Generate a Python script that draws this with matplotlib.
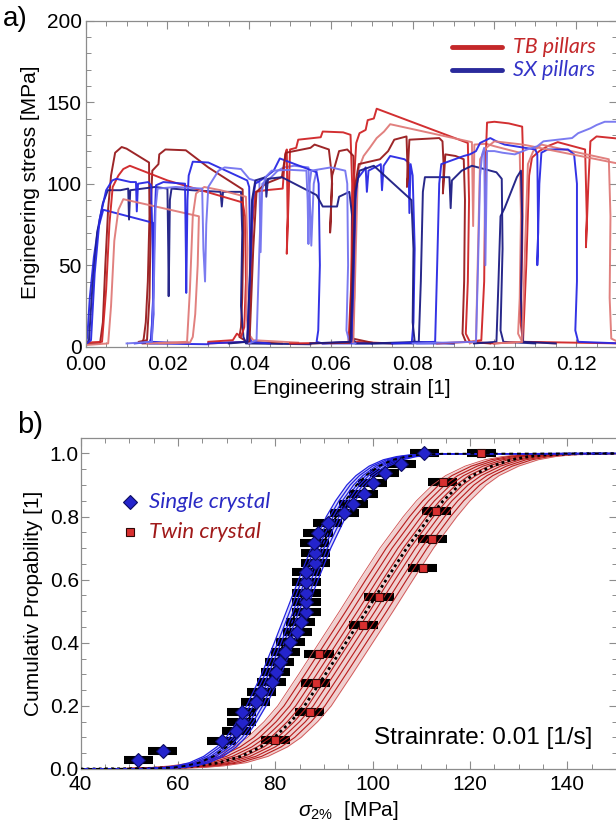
"""
plot.py - stress-strain curves of TB / SX pillars and cumulative yield-stress distributions
"""
import numpy as np
import matplotlib
matplotlib.use("Agg")
import matplotlib.pyplot as plt
from matplotlib.ticker import MultipleLocator, FormatStrFormatter

plt.rcParams['font.family'] = ['Liberation Sans', 'DejaVu Sans']
plt.rcParams['mathtext.fontset'] = 'custom'
plt.rcParams['mathtext.rm'] = 'Liberation Sans'
plt.rcParams['mathtext.it'] = 'Liberation Sans:italic'

# ---------------- panel a) : engineering strain / stress [MPa] ----------------
tb_1 = [(0.0000, 1.5), (0.0035, 2.0), (0.0042, 15), (0.0048, 50), (0.0055, 85), (0.0062, 105),
        (0.0072, 119), (0.0088, 122.5), (0.0100, 121.5), (0.0155, 113), (0.0156, 80), (0.0152, 40),
        (0.0147, 15), (0.0142, 5), (0.0138, 2), (0.0250, 2.5)]
tb_2 = [(0.0130, 3), (0.0150, 4), (0.0156, 30), (0.0160, 90), (0.0163, 108), (0.0178, 112),
        (0.0180, 118), (0.0195, 121), (0.0245, 120.5), (0.0300, 110), (0.0384, 96.5), (0.0386, 70),
        (0.0383, 30), (0.0380, 12), (0.0376, 6), (0.0395, 3), (0.0480, 2)]
tb_3 = [(0.0000, 2.5), (0.0040, 3), (0.0050, 35), (0.0058, 75), (0.0066, 98), (0.0080, 105),
        (0.0092, 109), (0.0108, 111), (0.0200, 102), (0.0384, 88.5), (0.0390, 80), (0.0392, 40),
        (0.0388, 12), (0.0380, 6), (0.0370, 8), (0.0360, 4), (0.0300, 3)]
tb_4 = [(0.0000, 1), (0.0055, 2), (0.0062, 25), (0.0070, 65), (0.0080, 84), (0.0092, 90.5),
        (0.0277, 80), (0.0274, 50), (0.0268, 20), (0.0262, 6), (0.0255, 2.5), (0.0180, 2)]
tb_5 = [(0.0150, 2), (0.0248, 3), (0.0255, 35), (0.0262, 80), (0.0270, 94), (0.0290, 98),
        (0.0330, 96), (0.0392, 92), (0.0396, 60), (0.0393, 20), (0.0398, 8), (0.0410, 4), (0.0520, 2.5)]
tb_6 = [(0.0300, 2), (0.0395, 3), (0.0402, 30), (0.0408, 75), (0.0415, 95), (0.0440, 96),
        (0.0482, 97), (0.0488, 118), (0.0492, 121), (0.0494, 80), (0.0492, 57), (0.0497, 95),
        (0.0500, 121), (0.0515, 122), (0.0520, 127), (0.0575, 128.5), (0.0580, 132), (0.0630, 131.5),
        (0.0648, 130), (0.0652, 100), (0.0650, 40), (0.0647, 10), (0.0655, 3), (0.0750, 2)]
tb_7 = [(0.0400, 2), (0.0402, 10), (0.0410, 60), (0.0418, 95), (0.0440, 100), (0.0480, 104),
        (0.0485, 112), (0.0490, 119), (0.0550, 122), (0.0560, 124), (0.0595, 121), (0.0600, 110),
        (0.0603, 100), (0.0598, 70), (0.0603, 105), (0.0620, 120), (0.0640, 121), (0.0655, 117),
        (0.0660, 80), (0.0657, 30), (0.0653, 5), (0.0700, 2.5)]
tb_8 = [(0.0500, 2), (0.0643, 2.5), (0.0650, 40), (0.0656, 100), (0.0662, 125), (0.0670, 131),
        (0.0685, 133), (0.0690, 139), (0.0705, 140), (0.0712, 146), (0.0935, 125), (0.0938, 90),
        (0.0935, 40), (0.0930, 8), (0.0940, 3), (0.1000, 2)]
tb_9 = [(0.0600, 2), (0.0655, 3), (0.0660, 50), (0.0666, 108), (0.0680, 117), (0.0695, 122),
        (0.0712, 128), (0.0730, 132), (0.0745, 136.5), (0.0945, 125.5), (0.0948, 74), (0.0951, 124),
        (0.0980, 124.5), (0.1000, 123), (0.1062, 119), (0.1065, 80), (0.1062, 30), (0.1058, 8),
        (0.1068, 3), (0.1150, 2)]
tb_10 = [(0.0550, 2), (0.0646, 2.5), (0.0652, 50), (0.0660, 100), (0.0668, 112), (0.0720, 115),
         (0.0740, 120), (0.0755, 127), (0.0785, 129), (0.0788, 104), (0.0786, 98), (0.0792, 127),
         (0.0865, 128), (0.0873, 126), (0.0876, 110), (0.0874, 94), (0.0880, 118), (0.0905, 117),
         (0.0925, 115), (0.0928, 90), (0.0926, 40), (0.0922, 8), (0.0930, 3), (0.0990, 2)]
tb_11 = [(0.0860, 2), (0.0940, 3), (0.0968, 4), (0.0975, 40), (0.0978, 110), (0.0982, 137.5),
         (0.1000, 138), (0.1035, 137), (0.1068, 135), (0.1070, 118), (0.1068, 60), (0.1064, 15),
         (0.1070, 3), (0.1310, 2)]
tb_12 = [(0.1000, 2), (0.1070, 3), (0.1078, 50), (0.1085, 105), (0.1092, 116), (0.1110, 120),
         (0.1130, 123), (0.1155, 125.5), (0.1222, 121), (0.1226, 80), (0.1224, 61), (0.1230, 100),
         (0.1235, 126), (0.1250, 129), (0.1310, 127.5)]
tb_13 = [(0.1000, 2), (0.1068, 3), (0.1075, 60), (0.1082, 112), (0.1095, 120), (0.1115, 124),
         (0.1280, 115), (0.1284, 80), (0.1282, 30), (0.1286, 5), (0.1310, 2)]
tb_14 = [(0.0940, 2), (0.0955, 4), (0.0960, 60), (0.0965, 115), (0.0980, 122), (0.1000, 126),
         (0.1070, 124), (0.1310, 112)]

sx_1 = [(0.0000, 2), (0.0004, 6), (0.0010, 30), (0.0020, 55), (0.0030, 72), (0.0043, 84),
        (0.0165, 76), (0.0167, 50), (0.0164, 20), (0.0160, 5), (0.0155, 2), (0.0300, 1.5)]
sx_2 = [(0.0000, 1), (0.0008, 4), (0.0016, 35), (0.0028, 70), (0.0042, 88), (0.0054, 96),
        (0.0085, 96), (0.0104, 97), (0.0106, 78), (0.0109, 96), (0.0170, 98), (0.0200, 97),
        (0.0202, 60), (0.0203, 31), (0.0206, 90), (0.0210, 97), (0.0260, 96), (0.0330, 95),
        (0.0333, 86), (0.0336, 95), (0.0380, 95), (0.0383, 70), (0.0380, 25), (0.0386, 6),
        (0.0392, 2), (0.0550, 1.5)]
sx_3 = [(0.0000, 1.5), (0.0013, 4), (0.0022, 45), (0.0034, 78), (0.0050, 96), (0.0065, 102),
        (0.0075, 103), (0.0110, 101), (0.0123, 101), (0.0125, 83), (0.0128, 100), (0.0153, 101),
        (0.0160, 99), (0.0164, 60), (0.0166, 20), (0.0161, 3), (0.0250, 2)]
sx_4 = [(0.0120, 2), (0.0160, 3), (0.0165, 30), (0.0169, 80), (0.0172, 99), (0.0190, 101),
        (0.0243, 100), (0.0245, 60), (0.0246, 33), (0.0249, 90), (0.0252, 105), (0.0262, 113.5),
        (0.0300, 113), (0.0395, 102), (0.0400, 98), (0.0403, 50), (0.0399, 10), (0.0405, 3),
        (0.0450, 2)]
sx_5 = [(0.0100, 2), (0.0162, 3), (0.0167, 40), (0.0171, 85), (0.0176, 97), (0.0220, 98),
        (0.0285, 97), (0.0288, 60), (0.0292, 40), (0.0295, 75), (0.0300, 98), (0.0325, 108),
        (0.0340, 110), (0.0380, 109), (0.0400, 103), (0.0425, 101), (0.0428, 58), (0.0432, 100),
        (0.0450, 103), (0.0470, 108), (0.0485, 110), (0.0510, 111), (0.0545, 110), (0.0550, 80),
        (0.0552, 62), (0.0558, 100), (0.0565, 108)]
sx_6 = [(0.0300, 2), (0.0395, 3), (0.0403, 50), (0.0409, 90), (0.0415, 100), (0.0440, 104),
        (0.0460, 108), (0.0475, 115.5), (0.0565, 107), (0.0570, 100), (0.0573, 50), (0.0569, 10),
        (0.0565, 3), (0.0580, 2), (0.0700, 2)]
sx_7 = [(0.0350, 2), (0.0396, 3), (0.0401, 40), (0.0407, 90), (0.0415, 102), (0.0440, 104),
        (0.0442, 92), (0.0446, 103), (0.0480, 104), (0.0565, 93), (0.0580, 86), (0.0615, 86),
        (0.0620, 92), (0.0645, 95), (0.0652, 80), (0.0655, 40), (0.0650, 8), (0.0660, 2), (0.0800, 2)]
sx_8 = [(0.0400, 2), (0.0418, 4), (0.0425, 60), (0.0430, 95), (0.0440, 104), (0.0455, 108),
        (0.0500, 108.5), (0.0540, 108), (0.0543, 90), (0.0545, 63), (0.0548, 100), (0.0552, 108),
        (0.0600, 110), (0.0635, 108), (0.0640, 100), (0.0642, 50), (0.0638, 10), (0.0645, 3),
        (0.0660, 2)]
sx_9 = [(0.0580, 2), (0.0650, 3), (0.0655, 40), (0.0660, 90), (0.0665, 103), (0.0680, 108),
        (0.0685, 110), (0.0688, 95), (0.0692, 108), (0.0715, 111), (0.0722, 112), (0.0725, 96),
        (0.0729, 111), (0.0745, 117), (0.0780, 115), (0.0790, 113), (0.0792, 82), (0.0795, 112),
        (0.0800, 105), (0.0805, 60), (0.0802, 15), (0.0798, 3), (0.0810, 2), (0.0900, 2)]
sx_10 = [(0.0550, 2), (0.0648, 3), (0.0652, 30), (0.0660, 95), (0.0670, 108), (0.0705, 111),
         (0.0797, 90), (0.0802, 60), (0.0800, 15), (0.0805, 3), (0.0900, 2)]
sx_11 = [(0.0700, 2), (0.0815, 3), (0.0820, 40), (0.0825, 95), (0.0830, 104), (0.0890, 104),
         (0.0893, 85), (0.0896, 102), (0.0920, 108), (0.0945, 111), (0.1005, 107), (0.1018, 103),
         (0.1020, 60), (0.1015, 10), (0.1022, 3), (0.1100, 2)]
sx_12 = [(0.0950, 2), (0.1005, 3), (0.1010, 40), (0.1015, 80), (0.1025, 85), (0.1055, 104),
         (0.1065, 108), (0.1068, 80), (0.1065, 30), (0.1070, 3), (0.1150, 2)]
sx_13 = [(0.0750, 2), (0.0855, 3), (0.0860, 50), (0.0865, 100), (0.0870, 112), (0.0925, 117),
         (0.0940, 118), (0.0955, 120), (0.0965, 125), (0.0990, 128), (0.1005, 126), (0.1025, 124),
         (0.1100, 121), (0.1105, 118), (0.1107, 70), (0.1105, 50), (0.1110, 100), (0.1115, 119),
         (0.1130, 121), (0.1180, 121), (0.1195, 118), (0.1202, 100), (0.1202, 40), (0.1198, 10),
         (0.1205, 3), (0.1310, 2)]
sx_14 = [(0.0800, 2), (0.0955, 3), (0.0960, 50), (0.0965, 105), (0.0970, 118), (0.0975, 122),
         (0.0978, 50), (0.0982, 120), (0.1000, 120), (0.1020, 119), (0.1050, 118), (0.1080, 121),
         (0.1105, 123), (0.1120, 126), (0.1190, 128), (0.1205, 131), (0.1215, 132), (0.1235, 134),
         (0.1250, 136), (0.1270, 138), (0.1310, 138)]

TB_CURVES = [tb_1, tb_2, tb_3, tb_4, tb_5, tb_6, tb_7, tb_8, tb_9, tb_10, tb_11, tb_12, tb_13, tb_14]
TB_SHADES = ['dark', 'dark', 'mid', 'light', 'light', 'mid', 'dark', 'mid', 'light', 'dark',
             'mid', 'mid', 'light', 'light']
SX_CURVES = [sx_1, sx_2, sx_3, sx_4, sx_5, sx_6, sx_7, sx_8, sx_9, sx_10, sx_11, sx_12, sx_13, sx_14]
SX_SHADES = ['mid', 'dark', 'mid', 'mid', 'light', 'mid', 'dark', 'light', 'mid', 'dark',
             'dark', 'dark', 'mid', 'light']

RED = {'dark': '#981a1c', 'mid': '#d02426', 'light': '#e07a78'}
BLUE = {'dark': '#1c1c84', 'mid': '#2828e4', 'light': '#7474f0'}

# ---------------- panel b) : sigma_2% [MPa] vs cumulative probability ----------------
SX_SIGMA = [51.9, 56.9, 69.0, 72.0, 73.1, 73.1, 76.0, 77.1, 79.3, 80.1, 80.9, 82.1, 83.1, 84.5,
            85.2, 86.4, 86.4, 86.4, 86.4, 86.4, 88.2, 88.2, 88.0, 88.8, 90.8, 94.2, 96.0, 98.2,
            100.0, 102.5, 105.9, 110.6]
SX_PROB = [0.029, 0.058, 0.090, 0.120, 0.150, 0.182, 0.213, 0.245, 0.277, 0.308, 0.340, 0.372,
           0.401, 0.435, 0.467, 0.498, 0.530, 0.559, 0.593, 0.625, 0.652, 0.683, 0.715, 0.747,
           0.780, 0.812, 0.840, 0.873, 0.905, 0.937, 0.968, 1.000]
TW_SIGMA = [80.0, 87.1, 88.3, 89.0, 98.1, 101.3, 110.3, 112.3, 113.1, 114.4, 122.3]
TW_PROB = [0.091, 0.182, 0.273, 0.364, 0.455, 0.546, 0.637, 0.728, 0.818, 0.909, 1.000]
ERR_HALF = 3.0

FIT_P = [0.0, 0.001, 0.005, 0.01, 0.02, 0.04, 0.07, 0.1, 0.15, 0.2, 0.3, 0.4, 0.5, 0.6, 0.7,
         0.8, 0.85, 0.9, 0.93, 0.96, 0.98, 0.99, 0.995, 0.999, 1.0]
SX_FIT = [40, 54.3, 59.3, 61.7, 64.4, 67.3, 70.0, 71.9, 74.2, 76.1, 79.2, 81.8, 84.3, 86.8, 89.4,
          92.5, 94.4, 96.7, 98.6, 101.3, 104.2, 106.9, 109.3, 114.3, 150]
TW_FIT = [40, 52, 60, 64, 68.5, 73, 77, 79.8, 83.2, 86, 90.3, 94.5, 98.7, 102.8, 107, 111.8,
          114.5, 117.8, 120.5, 124.5, 128.5, 132, 135, 141, 150]
SX_ENSEMBLE_SHIFT = [-2.0, -1.3, -0.6, 0.0, 0.6, 1.3, 2.0]
TW_ENSEMBLE_SHIFT = [-5.5, -4.2, -3.0, -1.8, -0.7, 0.7, 1.8, 3.0, 4.2, 5.5]


def style_frame(ax, xpad, ypad):
    for sp in ax.spines.values():
        sp.set_color('#8c8c8c')
        sp.set_linewidth(0.9)
    ax.tick_params(which='both', direction='in', top=True, right=True, color='#8c8c8c',
                   labelcolor='black', labelsize=15)
    ax.tick_params(which='major', length=6, width=0.8)
    ax.tick_params(which='minor', length=3.5, width=0.7)
    ax.tick_params(axis='x', which='both', pad=xpad)
    ax.tick_params(axis='y', which='both', pad=ypad)


fig = plt.figure(figsize=(6.16, 8.24), dpi=100)

# ---- a) ----
ax1 = fig.add_axes([85.7 / 616, 477.3 / 824, 531.3 / 616, 326 / 824])
order = []
for i in range(max(len(TB_CURVES), len(SX_CURVES))):
    if i < len(TB_CURVES):
        order.append((TB_CURVES[i], RED[TB_SHADES[i]]))
    if i < len(SX_CURVES):
        order.append((SX_CURVES[i], BLUE[SX_SHADES[i]]))
for pts, col in order:
    arr = np.array(pts)
    ax1.plot(arr[:, 0], arr[:, 1], color=col, lw=1.4, alpha=0.95, solid_joinstyle='round')

ax1.set_xlim(0, 0.130)
ax1.set_ylim(0, 200)
ax1.xaxis.set_major_locator(MultipleLocator(0.02))
ax1.xaxis.set_minor_locator(MultipleLocator(0.005))
ax1.yaxis.set_major_locator(MultipleLocator(50))
ax1.yaxis.set_minor_locator(MultipleLocator(10))
ax1.xaxis.set_major_formatter(FormatStrFormatter('%.2f'))
style_frame(ax1, 6, 3)
ax1.set_xlabel('Engineering strain [1]', fontsize=15)
ax1.set_ylabel('Engineering stress [MPa]', fontsize=15)
ax1.xaxis.set_label_coords(0.5, -0.099)
ax1.yaxis.set_label_coords(-0.086, 0.504)

# legend of a)
ax1.plot([0.689, 0.783], [0.920, 0.920], transform=ax1.transAxes, color='#c4282a', lw=3.5,
         solid_capstyle='round')
ax1.plot([0.689, 0.783], [0.849, 0.849], transform=ax1.transAxes, color='#2a2a9c', lw=3.5,
         solid_capstyle='round')
ax1.text(0.804, 0.920, 'TB pillars', transform=ax1.transAxes, color='#c4282a', fontsize=15.5,
         family=['Lato', 'DejaVu Sans'], style='italic', va='center', ha='left')
ax1.text(0.804, 0.849, 'SX pillars', transform=ax1.transAxes, color='#3434c8', fontsize=15.5,
         family=['Lato', 'DejaVu Sans'], style='italic', va='center', ha='left')

# ---- b) ----
ax2 = fig.add_axes([80.5 / 616, 55 / 824, 536.5 / 616, 331.3 / 824])
p = np.array(FIT_P)
sx_fit = np.array(SX_FIT)
tw_fit = np.array(TW_FIT)

ax2.errorbar(SX_SIGMA, SX_PROB, xerr=ERR_HALF, fmt='none', ecolor='black', elinewidth=5.8,
             capsize=0, zorder=2)
ax2.errorbar(TW_SIGMA, TW_PROB, xerr=ERR_HALF, fmt='none', ecolor='black', elinewidth=5.8,
             capsize=0, zorder=2)

ax2.fill_betweenx(p, tw_fit + TW_ENSEMBLE_SHIFT[0], tw_fit + TW_ENSEMBLE_SHIFT[-1],
                  color='#e6b2b2', alpha=0.6, lw=0, zorder=1)
for k, s in enumerate(TW_ENSEMBLE_SHIFT):
    edge = k in (0, len(TW_ENSEMBLE_SHIFT) - 1)
    ax2.plot(tw_fit + s, p, color='#d05050' if edge else '#b81c1c', lw=0.6 if edge else 0.8,
             zorder=3)
ax2.plot(tw_fit, p, color='black', lw=2.0, ls=(0, (1, 1.2)), zorder=3)

ax2.fill_betweenx(p, sx_fit + SX_ENSEMBLE_SHIFT[0], sx_fit + SX_ENSEMBLE_SHIFT[-1],
                  color='#9090f0', alpha=0.35, lw=0, zorder=1)
for s in SX_ENSEMBLE_SHIFT:
    ax2.plot(sx_fit + s, p, color='#2222e0', lw=0.9, zorder=3)
ax2.plot(sx_fit, p, color='black', lw=1.4, ls=(0, (2, 2)), zorder=3)

ax2.plot(SX_SIGMA, SX_PROB, 'D', ms=7.5, mfc='#2424cc', mec='#0c0c60', mew=0.8, zorder=4)
ax2.plot(TW_SIGMA, TW_PROB, 's', ms=6, mfc='#d83030', mec='#300808', mew=0.8, zorder=4)

ax2.set_xlim(40, 150.2)
ax2.set_ylim(0, 1.05)
ax2.xaxis.set_major_locator(MultipleLocator(20))
ax2.xaxis.set_minor_locator(MultipleLocator(5))
ax2.yaxis.set_major_locator(MultipleLocator(0.2))
ax2.yaxis.set_minor_locator(MultipleLocator(0.05))
ax2.yaxis.set_major_formatter(FormatStrFormatter('%.1f'))
style_frame(ax2, 4.5, 1.2)
ax2.set_xlabel(r'$\sigma_{2\%}$  [MPa]', fontsize=15)
ax2.set_ylabel('Cumulativ Propability [1]', fontsize=15)
ax2.xaxis.set_label_coords(0.5, -0.090)
ax2.yaxis.set_label_coords(-0.070, 0.501)

# legend of b)
ax2.plot([0.092], [0.807], 'D', transform=ax2.transAxes, ms=7.5, mfc='#2424cc', mec='#0c0c60',
         mew=0.8)
ax2.plot([0.092], [0.716], 's', transform=ax2.transAxes, ms=6, mfc='#d83030', mec='#300808',
         mew=0.8)
ax2.text(0.128, 0.807, 'Single crystal', transform=ax2.transAxes, color='#2a2ac4', fontsize=16,
         family=['Lato', 'DejaVu Sans'], style='italic', va='center', ha='left')
ax2.text(0.128, 0.716, 'Twin crystal', transform=ax2.transAxes, color='#a01a1a', fontsize=16,
         family=['Lato', 'DejaVu Sans'], style='italic', va='center', ha='left')
ax2.text(0.750, 0.094, 'Strainrate: 0.01 [1/s]', transform=ax2.transAxes, fontsize=17.5,
         ha='center', va='center')

fig.text(0.024, 0.977, 'a)', fontsize=20, ha='center', va='center')
fig.text(0.049, 0.484, 'b)', fontsize=21, ha='center', va='center')

fig.savefig('out.png', dpi=100)
